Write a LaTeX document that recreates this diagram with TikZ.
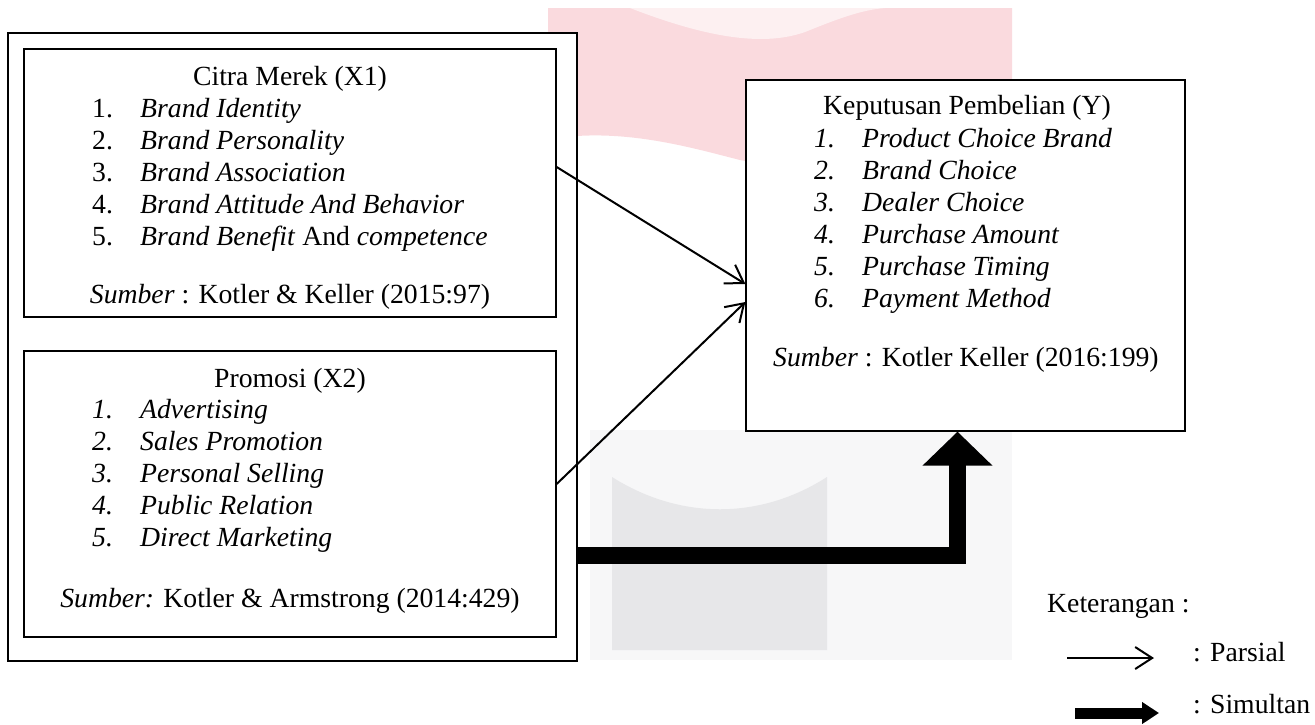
\documentclass[tikz,border=0pt]{standalone}
\usepackage{fontspec}
\setmainfont{Liberation Serif}
\usetikzlibrary{arrows.meta}
\definecolor{wmpink}{RGB}{250,218,222}
\definecolor{wmgrey}{RGB}{231,231,233}
\definecolor{wmfaint}{RGB}{247,247,248}
\tikzset{
  box/.style={draw=black, line width=1.3pt, fill=white, inner sep=0pt},
  txt/.style={inner sep=0pt, font=\fontsize{27.7}{32}\selectfont},
  tl/.style={txt, anchor=base west},
  tc/.style={txt, anchor=base},
  partial/.style={line width=2pt, -{Straight Barb[length=17pt,width=22pt]}},
  simul/.style={line width=17pt, line join=miter, -{Triangle[length=34pt,width=68pt]}},
}
\begin{document}
\begin{tikzpicture}[x=1pt,y=-1pt]
\useasboundingbox (0,0) rectangle (1315,724);
% watermark
\fill[wmpink] (548,8) -- (1012,8) -- (1012,165) .. controls (900,178) and (800,172) .. (740,160) .. controls (700,150) and (640,132) .. (577,136) -- (548,136) -- cycle;
\fill[white, opacity=0.6] (630,8) .. controls (700,35) and (760,48) .. (805,32) .. controls (835,20) and (860,10) .. (885,8) -- cycle;
\fill[wmfaint] (590,430) rectangle (1012,660);
\fill[wmgrey] (612,477) .. controls (680,520) and (760,520) .. (827,477) -- (827,650) -- (612,650) -- cycle;
% boxes
\node[box, minimum width=569pt, minimum height=628pt] (outer) at (292.5,347) {};
\node[box, minimum width=532pt, minimum height=268pt] (x1) at (290,183) {};
\node[box, minimum width=532pt, minimum height=286pt] (x2) at (290,494) {};
\node[box, minimum width=439pt, minimum height=351pt] (y) at (965.5,255.5) {};
% X1 text
\node[tc] (x1t) at (290,85) {Citra Merek (X1)};
\node[tl] (x1n1) at (92,117) {1.};
\node[tl] (x1i1) at (140,117) {\textit{Brand Identity}};
\node[tl] (x1n2) at (92,149) {2.};
\node[tl] (x1i2) at (140,149) {\textit{Brand Personality}};
\node[tl] (x1n3) at (92,181) {3.};
\node[tl] (x1i3) at (140,181) {\textit{Brand Association}};
\node[tl] (x1n4) at (92,213) {4.};
\node[tl] (x1i4) at (140,213) {\textit{Brand Attitude And Behavior}};
\node[tl] (x1n5) at (92,245) {5.};
\node[tl] (x1i5) at (140,245) {\textit{Brand Benefit} And \textit{competence}};
\node[tc] (x1s) at (290,303) {\textit{Sumber} : Kotler \& Keller (2015:97)};
% X2 text
\node[tc] (x2t) at (290,387) {Promosi (X2)};
\node[tl] (x2n1) at (92,418) {\textit{1.}};
\node[tl] (x2i1) at (140,418) {\textit{Advertising}};
\node[tl] (x2n2) at (92,450) {\textit{2.}};
\node[tl] (x2i2) at (140,450) {\textit{Sales Promotion}};
\node[tl] (x2n3) at (92,482) {\textit{3.}};
\node[tl] (x2i3) at (140,482) {\textit{Personal Selling}};
\node[tl] (x2n4) at (92,514) {\textit{4.}};
\node[tl] (x2i4) at (140,514) {\textit{Public Relation}};
\node[tl] (x2n5) at (92,546) {\textit{5.}};
\node[tl] (x2i5) at (140,546) {\textit{Direct Marketing}};
\node[tc] (x2s) at (290,607) {\textit{Sumber:} Kotler \& Armstrong (2014:429)};
% Y text
\node[tl] (yt) at (823,114) {Keputusan Pembelian (Y)};
\node[tl] (yn1) at (814,147) {\textit{1.}};
\node[tl] (yi1) at (862,147) {\textit{Product Choice Brand}};
\node[tl] (yn2) at (814,179) {\textit{2.}};
\node[tl] (yi2) at (862,179) {\textit{Brand Choice}};
\node[tl] (yn3) at (814,211) {\textit{3.}};
\node[tl] (yi3) at (862,211) {\textit{Dealer Choice}};
\node[tl] (yn4) at (814,243) {\textit{4.}};
\node[tl] (yi4) at (862,243) {\textit{Purchase Amount}};
\node[tl] (yn5) at (814,275) {\textit{5.}};
\node[tl] (yi5) at (862,275) {\textit{Purchase Timing}};
\node[tl] (yn6) at (814,307) {\textit{6.}};
\node[tl] (yi6) at (862,307) {\textit{Payment Method}};
\node[tl] (ys) at (773,366) {\textit{Sumber} : Kotler Keller (2016:199)};
% connectors
\draw[partial] ([yshift=16pt]x1.east) -- ([yshift=-28.5pt]y.west);
\draw[partial] ([yshift=10pt]x2.east) -- ([yshift=-46.5pt]y.west);
\coordinate (bend) at (957.5,555);
\draw[simul] (outer.east |- bend) -- (bend) -- (y.south -| bend);
% legend
\node[tl] (ket) at (1047,612) {Keterangan :};
\node[tl] (lp) at (1193,661) {: Parsial};
\node[tl] (ls) at (1193,713) {: Simultan};
\coordinate (lpa) at (1067,658);
\coordinate (lpb) at (1154,658);
\draw[partial] (lpa) -- (lpb);
\coordinate (lsa) at (1075,713);
\coordinate (lsb) at (1159,713);
\draw[line width=11pt, -{Triangle[length=17pt,width=21pt]}] (lsa) -- (lsb);
\end{tikzpicture}
\end{document}
